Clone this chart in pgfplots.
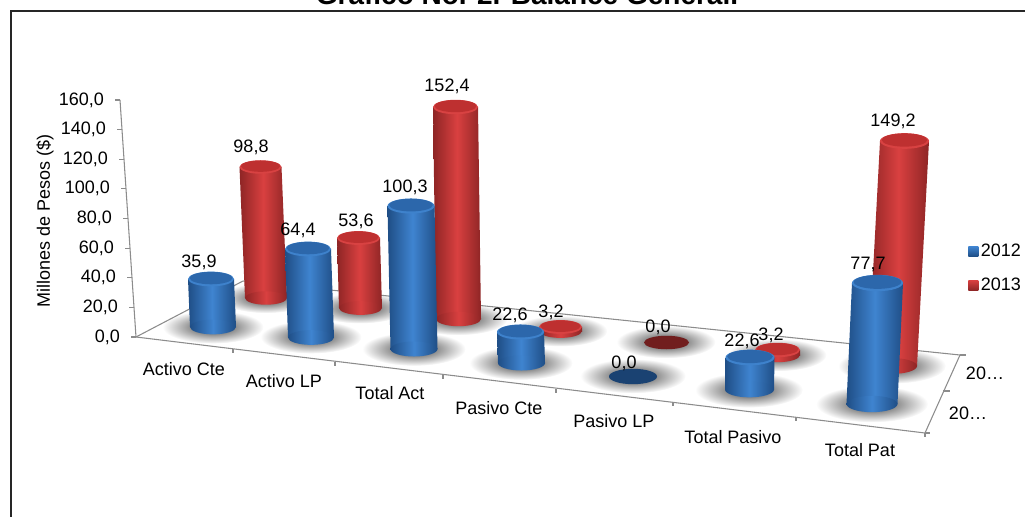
\documentclass[border=0pt]{standalone}
\usepackage{fontspec}
\setmainfont{Liberation Sans}
\usepackage{pgfplots}
\pgfplotsset{compat=1.18}
\definecolor{bluedark}{HTML}{1F4E86}
\definecolor{bluemid}{HTML}{3F84D0}
\definecolor{bluetop}{HTML}{2C67AB}
\definecolor{bluebev}{HTML}{3E82CC}
\definecolor{reddark}{HTML}{8E2525}
\definecolor{redmid}{HTML}{D94040}
\definecolor{redtop}{HTML}{BE3030}
\definecolor{redbev}{HTML}{D84242}
\definecolor{axgray}{HTML}{8C8C8C}
\newcommand\elli[5]{#1[draw=none,#2] (0,#3\pgfplotmarksize) ellipse [x radius=#4\pgfplotmarksize, y radius=#5\pgfplotmarksize];}
\pgfdeclareplotmark{botblue}{\elli{\shade}{left color=bluedark,right color=bluedark,middle color=bluemid}{0}{1}{0.32}}
\pgfdeclareplotmark{botred}{\elli{\shade}{left color=reddark,right color=reddark,middle color=redmid}{0}{1}{0.32}}
\pgfdeclareplotmark{topblue}{\elli{\fill}{bluebev}{0}{1}{0.32}\elli{\fill}{bluetop}{0.04}{0.93}{0.27}}
\pgfdeclareplotmark{topred}{\elli{\fill}{redbev}{0}{1}{0.32}\elli{\fill}{redtop}{0.04}{0.93}{0.27}}
\pgfdeclareplotmark{flatblue}{\elli{\fill}{bluedark!85!black}{0}{1}{0.32}}
\pgfdeclareplotmark{flatred}{\elli{\fill}{reddark!80!black}{0}{1}{0.3}}
\pgfdeclareplotmark{shadow}{\elli{\shade}{inner color=black!78,outer color=white,blend mode=multiply}{0}{2.2}{0.72}}
\pgfdeclareplotmark{legblue}{\shade[draw=none,top color=bluemid,bottom color=bluedark] (-\pgfplotmarksize,-\pgfplotmarksize) rectangle (\pgfplotmarksize,\pgfplotmarksize);}
\pgfdeclareplotmark{legred}{\shade[draw=none,top color=redmid,bottom color=reddark] (-\pgfplotmarksize,-\pgfplotmarksize) rectangle (\pgfplotmarksize,\pgfplotmarksize);}
% #1 colour, #2 top cx, #3 bottom cx, #4 top rx, #5 bottom rx, #6 y top, #7 y bottom
\newcommand\cyl[7]{%
  \pgfmathsetmacro\xa{#2-#4}\pgfmathsetmacro\xb{#2+#4}%
  \pgfmathsetmacro\xc{#3+#5}\pgfmathsetmacro\xd{#3-#5}%
  \addplot[only marks,mark=bot#1,mark size={#5*0.75}] coordinates {(#3,#7)};
  \addplot[draw=none,left color=#1dark,right color=#1dark,middle color=#1mid] coordinates {(\xa,#6) (\xb,#6) (\xc,#7) (\xd,#7)} --cycle;
  \addplot[only marks,mark=top#1,mark size={#4*0.75}] coordinates {(#2,#6)};
}
\newcommand\seg[4]{\addplot[axgray,line width=0.8pt] coordinates {(#1,#2) (#3,#4)};}
\newcommand\shad[3]{\addplot[only marks,mark=shadow,mark size={#3*0.75}] coordinates {(#1,#2)};}
\newcommand\cat[3]{\node[font=\fontsize{13.5}{16}\selectfont] at (axis cs:#1,#2) {#3};}
\pgfplotsset{px/.style={anchor=south west, at={(0pt,0pt)}, x=0.75pt, y=0.75pt,
  xmin=0, xmax=1025, ymin=0, ymax=517, y dir=reverse, hide axis, clip=false}}
\begin{document}
\begin{tikzpicture}
\useasboundingbox (0,0) rectangle (768.75pt,387.75pt);
\clip (0,0) rectangle (768.75pt,387.75pt);
% shadows
\begin{axis}[px]
\shad{266}{298}{21}\shad{360}{308}{21.5}\shad{458}{319}{22.5}\shad{560}{331}{21.5}\shad{666}{342}{22.5}\shad{777}{355}{22.5}\shad{892}{366}{24.5}
\shad{213}{327}{23}\shad{311}{337}{23}\shad{414}{349}{23.5}\shad{521}{363}{23.5}\shad{633}{376}{24}\shad{749}{390}{24.5}\shad{872}{404}{25.5}
\end{axis}
% value axis
\begin{axis}[
  anchor=origin, at={(102pt,135pt)},
  x={(0.75pt,0pt)}, y={(-0.075pt,1.111pt)},
  xmin=0, xmax=1, ymin=0, ymax=160,
  hide x axis, axis y line=left,
  axis line style={-,axgray,line width=0.8pt},
  ytick={0,20,...,160},
  tick style={axgray,line width=0.8pt},
  tick align=outside, major tick length=3.5pt,
  tick label style={font=\fontsize{13.5}{16}\selectfont},
  scaled y ticks=false,
  yticklabel style={xshift=-5pt,/pgf/number format/.cd,fixed,fixed zerofill,precision=1,use comma,assume math mode=true},
  ytick pos=left,
]
\addplot[draw=none] coordinates {(0,0)};
\end{axis}
% frame, title, floor, category labels
\begin{axis}[px]
\addplot[black!85,line width=1.5pt] coordinates {(10.5,517) (10.5,11) (1025,11)};
\node[anchor=base,font=\bfseries\fontsize{21}{24}\selectfont] at (axis cs:527,5) {Gráfico No. 2. Balance General.};
\node[rotate=90,font=\fontsize{13.5}{16}\selectfont] at (axis cs:45,221) {Millones de Pesos (\$)};
\seg{136}{337}{925}{433}\seg{136}{337}{243}{281}\seg{243}{281}{960}{355}\seg{925}{433}{960}{355}
\seg{233}{349}{233}{353}\seg{335}{362}{335}{366}\seg{443}{375}{443}{379}\seg{556}{389}{556}{393}\seg{673}{402}{673}{406}\seg{796}{417}{796}{421}\seg{925}{433}{925}{437}
\seg{925}{433}{930}{433}\seg{943}{391}{950}{391}\seg{960}{355}{966}{355}
\cat{184}{369}{Activo Cte}\cat{284}{381}{Activo LP}\cat{390}{393}{Total Act}\cat{499}{408}{Pasivo Cte}\cat{614}{421}{Pasivo LP}\cat{733}{437}{Total Pasivo}\cat{860}{450}{Total Pat}
\cat{985}{373}{20…}\cat{968}{413}{20…}
\end{axis}
% 2013
\begin{axis}[px]
\cyl{red}{260.5}{266}{21}{21}{167}{298}
\cyl{red}{358.5}{360.5}{21.5}{21.5}{238}{308}
\cyl{red}{455.5}{458.5}{22.5}{22.5}{107}{319}
\cyl{red}{560.5}{560.5}{21.5}{21.5}{327}{331}
\addplot[only marks,mark=flatred,mark size={22.5*0.75}] coordinates {(666.5,342.5)};
\cyl{red}{777.5}{777.5}{22.5}{22.5}{350}{355}
\cyl{red}{904.5}{892.5}{24.5}{24.5}{141}{366}
\end{axis}
% 2012
\begin{axis}[px]
\cyl{blue}{211}{213}{23}{23}{279}{327}
\cyl{blue}{308}{311}{23}{23}{249}{337.5}
\cyl{blue}{411}{414}{23.5}{23.5}{206}{349}
\cyl{blue}{520.5}{521.5}{23.5}{23.5}{332}{363}
\addplot[only marks,mark=flatblue,mark size={24*0.75}] coordinates {(633,376.5)};
\cyl{blue}{750}{749.5}{24.5}{24.5}{357.5}{389.5}
\cyl{blue}{877.5}{872}{25.5}{25.5}{283}{404}
\end{axis}
% values and legend
\begin{axis}[px,
  legend style={draw=none,fill=none,at={(0.9444,0.5335)},anchor=north west,font=\fontsize{13.5}{16}\selectfont,inner sep=0pt,row sep=10.5pt,/tikz/every even column/.append style={column sep=2pt}},
  legend cell align=left,
]
\addlegendimage{only marks,mark=legblue,mark size=3.75}
\addlegendentry{2012}
\addlegendimage{only marks,mark=legred,mark size=3.75}
\addlegendentry{2013}
\addplot[only marks,mark=none,point meta=explicit,nodes near coords,
  every node near coord/.append style={anchor=center,inner sep=0pt,font=\fontsize{13.5}{16}\selectfont,/pgf/number format/.cd,fixed,fixed zerofill,precision=1,use comma,assume math mode=true}]
  table[meta=v] {
x y v
199 262 35.9
298 230 64.4
405 187 100.3
510 315 22.6
624 363 0.0
742 341 22.6
868 264 77.7
251 147 98.8
356 221 53.6
447 86 152.4
551 312 3.2
658 327 0.0
771 335 3.2
893 121 149.2
};
\end{axis}
\end{tikzpicture}
\end{document}
